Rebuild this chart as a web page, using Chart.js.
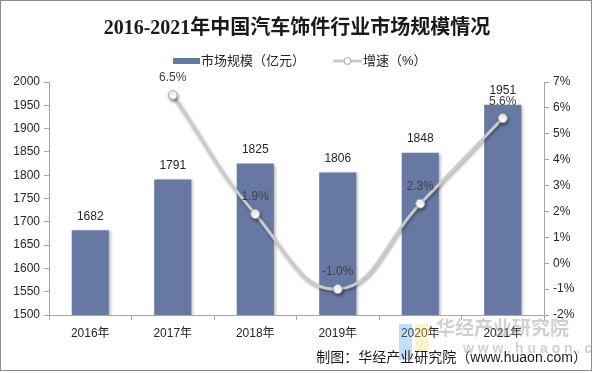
<!DOCTYPE html>
<html lang="zh">
<head>
  <meta charset="UTF-8" />
  <title>2016-2021年中国汽车饰件行业市场规模情况</title>
  <script src="https://cdn.jsdelivr.net/npm/chart.js"></script>
  <style>
    html, body { margin: 0; padding: 0; background: #fff; }
    #wrap { width: 594px; height: 373px; position: relative; }
  </style>
</head>
<body>
  <div id="wrap"><canvas id="c" width="594" height="373"></canvas></div>
  <script>
    const years = ['2016年', '2017年', '2018年', '2019年', '2020年', '2021年'];
    const marketSize = [1682, 1791, 1825, 1806, 1848, 1951];
    const growth = [null, 6.5, 1.9, -1.0, 2.3, 5.6];
    const sizeLabel = '市场规模（亿元）';
    const growthLabel = '增速（%）';

    const CJK = '"Liberation Sans", "Noto Sans CJK SC", sans-serif';
    const barColor = '#6779a3';
    const lineColor = '#cbcbcb';

    const extras = {
      id: 'extras',
      beforeDatasetDraw(chart, args) {
        const ctx = chart.ctx;
        ctx.save();
        if (args.index === 0) {
          ctx.shadowColor = 'rgba(0,0,0,0.3)';
          ctx.shadowOffsetX = 2; ctx.shadowOffsetY = 1; ctx.shadowBlur = 3;
        } else {
          ctx.shadowColor = 'rgba(0,0,0,0.35)';
          ctx.shadowOffsetX = 1; ctx.shadowOffsetY = 2; ctx.shadowBlur = 3;
        }
      },
      afterDatasetDraw(chart) { chart.ctx.restore(); },
      afterDraw(chart) {
        const ctx = chart.ctx;
        ctx.save();
        // legend
        ctx.font = '13px ' + CJK;
        ctx.textBaseline = 'middle';
        ctx.textAlign = 'left';
        ctx.fillStyle = barColor;
        ctx.fillRect(173, 58, 27, 6);
        ctx.fillStyle = '#262626';
        ctx.fillText(sizeLabel, 201, 61);
        ctx.strokeStyle = lineColor; ctx.lineWidth = 3;
        ctx.beginPath(); ctx.moveTo(333, 61); ctx.lineTo(362, 61); ctx.stroke();
        ctx.fillStyle = '#fff'; ctx.strokeStyle = '#a8a8a8'; ctx.lineWidth = 1;
        ctx.beginPath(); ctx.arc(347.5, 61, 3.5, 0, Math.PI * 2); ctx.fill(); ctx.stroke();
        ctx.fillStyle = '#262626';
        ctx.fillText(growthLabel, 363, 61);

        // value labels
        ctx.font = '12px ' + CJK;
        ctx.textAlign = 'center';
        chart.getDatasetMeta(0).data.forEach((b, i) => {
          ctx.fillText(String(marketSize[i]), b.x, b.y - 14);
        });
        ctx.fillStyle = '#404040';
        chart.getDatasetMeta(1).data.forEach((p, i) => {
          if (growth[i] === null) return;
          ctx.fillText(growth[i].toFixed(1) + '%', p.x, p.y - 17);
        });

        // watermark
        ctx.globalAlpha = 0.35;
        ctx.fillStyle = '#5aa0e6';
        ctx.fillRect(399, 324, 13, 36);
        ctx.fillStyle = '#f2dc6e';
        ctx.fillRect(415, 324, 14, 28);
        ctx.globalAlpha = 1;
        ctx.fillStyle = 'rgba(150,150,150,0.45)';
        ctx.font = 'bold 19px "Noto Sans CJK SC", sans-serif';
        ctx.textAlign = 'left';
        ctx.fillText('华经产业研究院', 436, 328);
        ctx.font = 'bold 14px "Liberation Sans", sans-serif';
        ctx.fillText('w w w . h u a o n . c o m', 463, 349);

        // footer
        ctx.fillStyle = '#1a1a1a';
        ctx.font = '14px ' + CJK;
        ctx.textAlign = 'right';
        ctx.fillText('制图：华经产业研究院（www.huaon.com）', 587, 358);

        // frame
        ctx.strokeStyle = '#8c8c8c';
        ctx.lineWidth = 1;
        ctx.strokeRect(0.5, 0.5, 591, 370);
        ctx.restore();
      }
    };

    const axisGrid = { display: true, drawOnChartArea: false, drawTicks: true, tickLength: 5, color: '#a6a6a6' };
    const tickFont = { size: 12, family: CJK };

    new Chart(document.getElementById('c'), {
      type: 'bar',
      data: {
        labels: years,
        datasets: [{
          type: 'bar',
          label: sizeLabel,
          data: marketSize,
          yAxisID: 'y',
          backgroundColor: barColor,
          barPercentage: 0.45,
          categoryPercentage: 1,
          order: 2
        }, {
          type: 'line',
          label: growthLabel,
          data: growth,
          yAxisID: 'y1',
          borderColor: lineColor,
          borderWidth: 3,
          tension: 0.45,
          pointRadius: 4.5,
          pointBackgroundColor: '#fff',
          pointBorderColor: '#a8a8a8',
          pointBorderWidth: 1,
          order: 1
        }]
      },
      options: {
        responsive: false,
        animation: false,
        layout: { padding: 0 },
        plugins: {
          title: {
            display: true,
            text: '2016-2021年中国汽车饰件行业市场规模情况',
            color: '#1a1a1a',
            font: { size: 20, weight: 'bold', family: '"Liberation Serif", "Noto Sans CJK SC", serif' },
            padding: { top: 17, bottom: 41 }
          },
          legend: { display: false },
          tooltip: { enabled: false }
        },
        scales: {
          x: {
            grid: Object.assign({ offset: true }, axisGrid),
            border: { display: true, color: '#a6a6a6' },
            ticks: { color: '#262626', font: tickFont, padding: 6 },
            afterFit(s) { s.height = 58; }
          },
          y: {
            position: 'left',
            min: 1500, max: 2000,
            grid: axisGrid,
            border: { display: true, color: '#a6a6a6' },
            ticks: { stepSize: 50, color: '#262626', font: tickFont, padding: 4,
              callback: v => String(v) },
            afterFit(s) { s.width = 49; }
          },
          y1: {
            position: 'right',
            min: -2, max: 7,
            grid: axisGrid,
            border: { display: true, color: '#a6a6a6' },
            ticks: { stepSize: 1, color: '#262626', font: tickFont, padding: 4,
              callback: v => v + '%' },
            afterFit(s) { s.width = 50; }
          }
        }
      },
      plugins: [extras]
    });
  </script>
</body>
</html>
